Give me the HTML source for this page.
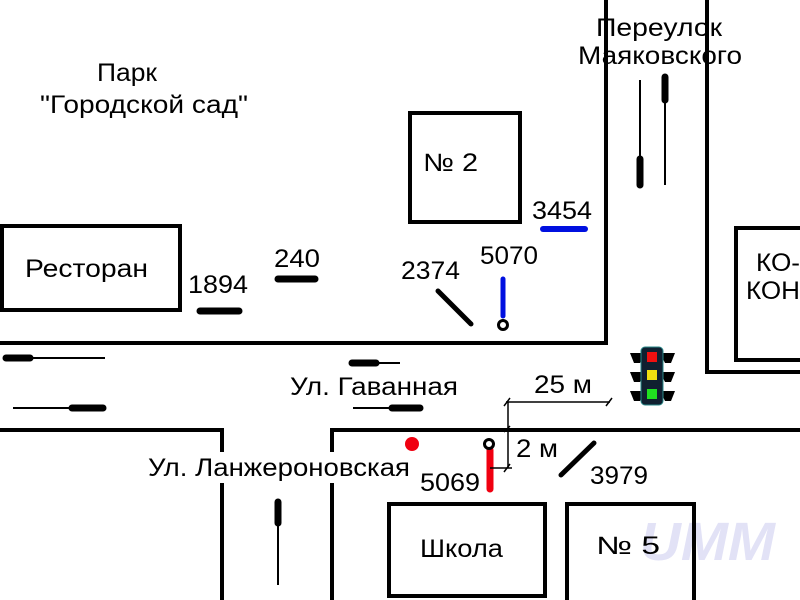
<!DOCTYPE html>
<html><head><meta charset="utf-8"><style>
html,body{margin:0;padding:0;background:#fff;width:800px;height:600px;overflow:hidden}
text{font-family:"Liberation Sans",sans-serif;font-size:25px;fill:#000}
</style></head><body>
<svg width="800" height="600" viewBox="0 0 800 600" xmlns="http://www.w3.org/2000/svg">
<text x="640" y="560" textLength="135" lengthAdjust="spacingAndGlyphs" style="font-size:54px;font-weight:bold;font-style:italic;fill:#e2e2f6">UMM</text>
<g stroke="#000" stroke-width="4" fill="none">
<path d="M0 343H606V0"/>
<path d="M707 0V372H800"/>
<path d="M0 430H222V452M222 483V600"/>
<path d="M332 452V430H800M332 483V600"/>
<rect x="2" y="226" width="178" height="84"/>
<rect x="410" y="113" width="110" height="109"/>
<rect x="736" y="228" width="70" height="132"/>
<rect x="389" y="504" width="156" height="92"/>
<rect x="567" y="504" width="127" height="100"/>
</g>
<g stroke="#000" stroke-width="2">
<line x1="5" y1="358" x2="105" y2="358"/><line x1="13" y1="408" x2="105" y2="408"/>
<line x1="350" y1="363" x2="400" y2="363"/><line x1="353" y1="408" x2="420" y2="408"/>
<line x1="278" y1="500" x2="278" y2="585"/>
<line x1="640" y1="80" x2="640" y2="187"/><line x1="665" y1="75" x2="665" y2="185"/>
</g>
<g stroke="#000" stroke-width="7" stroke-linecap="round">
<line x1="6" y1="358" x2="30" y2="358"/><line x1="72" y1="408" x2="103" y2="408"/>
<line x1="352" y1="363" x2="376" y2="363"/><line x1="392" y1="408" x2="420" y2="408"/>
<line x1="278" y1="502" x2="278" y2="523"/>
<line x1="640" y1="159" x2="640" y2="185"/><line x1="665" y1="77" x2="665" y2="100"/>
<line x1="200" y1="311" x2="239" y2="311"/><line x1="278" y1="279" x2="315" y2="279"/>
</g>
<g stroke="#000" stroke-width="5" stroke-linecap="round">
<line x1="438" y1="291" x2="471" y2="324"/><line x1="561" y1="475" x2="594" y2="443"/>
</g>
<line x1="543" y1="229" x2="585" y2="229" stroke="#0010e0" stroke-width="6" stroke-linecap="round"/>
<line x1="503" y1="279" x2="503" y2="316" stroke="#0010e0" stroke-width="5" stroke-linecap="round"/>
<circle cx="503" cy="325" r="4.5" fill="#fff" stroke="#000" stroke-width="3"/>
<line x1="490" y1="450" x2="490" y2="489" stroke="#f00010" stroke-width="7" stroke-linecap="round"/>
<circle cx="489" cy="444" r="4.5" fill="#fff" stroke="#000" stroke-width="3"/>
<circle cx="412" cy="444" r="7" fill="#f00010"/>
<g stroke="#000" stroke-width="1.5">
<path d="M506 402H610M508 402V468M490 468H512"/>
<path d="M504 406l6-8M606 406l6-8M504 432l6-6M504 472l6-8"/>
</g>
<g fill="#000">
<path d="M630 353h15l-5 10h-6zM630 372h15l-5 10h-6zM630 391h15l-5 10h-6z"/>
<path d="M675 353h-15l5 10h6zM675 372h-15l5 10h6zM675 391h-15l5 10h6z"/>
<rect x="641" y="347" width="22" height="58" rx="4" fill="#102030" stroke="#2a8a8a" stroke-width="1"/>
<rect x="647" y="352" width="10" height="10" fill="#f01010"/>
<rect x="647" y="370" width="10" height="10" fill="#f0e010"/>
<rect x="647" y="389" width="10" height="10" fill="#20e020"/>
</g>
<text x="97" y="81" textLength="60" lengthAdjust="spacingAndGlyphs">Парк</text>
<text x="40" y="113" textLength="208" lengthAdjust="spacingAndGlyphs">"Городской сад"</text>
<text x="596" y="36" textLength="126" lengthAdjust="spacingAndGlyphs">Переулок</text>
<text x="578" y="64" textLength="164" lengthAdjust="spacingAndGlyphs">Маяковского</text>
<text x="423" y="171" textLength="55" lengthAdjust="spacingAndGlyphs">№ 2</text>
<text x="25" y="277" textLength="123" lengthAdjust="spacingAndGlyphs">Ресторан</text>
<text x="188" y="293" textLength="60" lengthAdjust="spacingAndGlyphs">1894</text>
<text x="274" y="267" textLength="46" lengthAdjust="spacingAndGlyphs">240</text>
<text x="401" y="279" textLength="59" lengthAdjust="spacingAndGlyphs">2374</text>
<text x="480" y="264" textLength="58" lengthAdjust="spacingAndGlyphs">5070</text>
<text x="532" y="219" textLength="60" lengthAdjust="spacingAndGlyphs">3454</text>
<text x="756" y="271" textLength="44" lengthAdjust="spacingAndGlyphs">КО-</text>
<text x="746" y="299" textLength="54" lengthAdjust="spacingAndGlyphs">КОН</text>
<text x="290" y="395" textLength="168" lengthAdjust="spacingAndGlyphs">Ул. Гаванная</text>
<text x="534" y="393" textLength="58" lengthAdjust="spacingAndGlyphs">25 м</text>
<text x="148" y="476" textLength="262" lengthAdjust="spacingAndGlyphs">Ул. Ланжероновская</text>
<text x="516" y="457" textLength="42" lengthAdjust="spacingAndGlyphs">2 м</text>
<text x="420" y="491" textLength="60" lengthAdjust="spacingAndGlyphs">5069</text>
<text x="590" y="484" textLength="58" lengthAdjust="spacingAndGlyphs">3979</text>
<text x="420" y="557" textLength="83" lengthAdjust="spacingAndGlyphs">Школа</text>
<text x="596" y="554" textLength="64" lengthAdjust="spacingAndGlyphs">№ 5</text>
</svg>
</body></html>
